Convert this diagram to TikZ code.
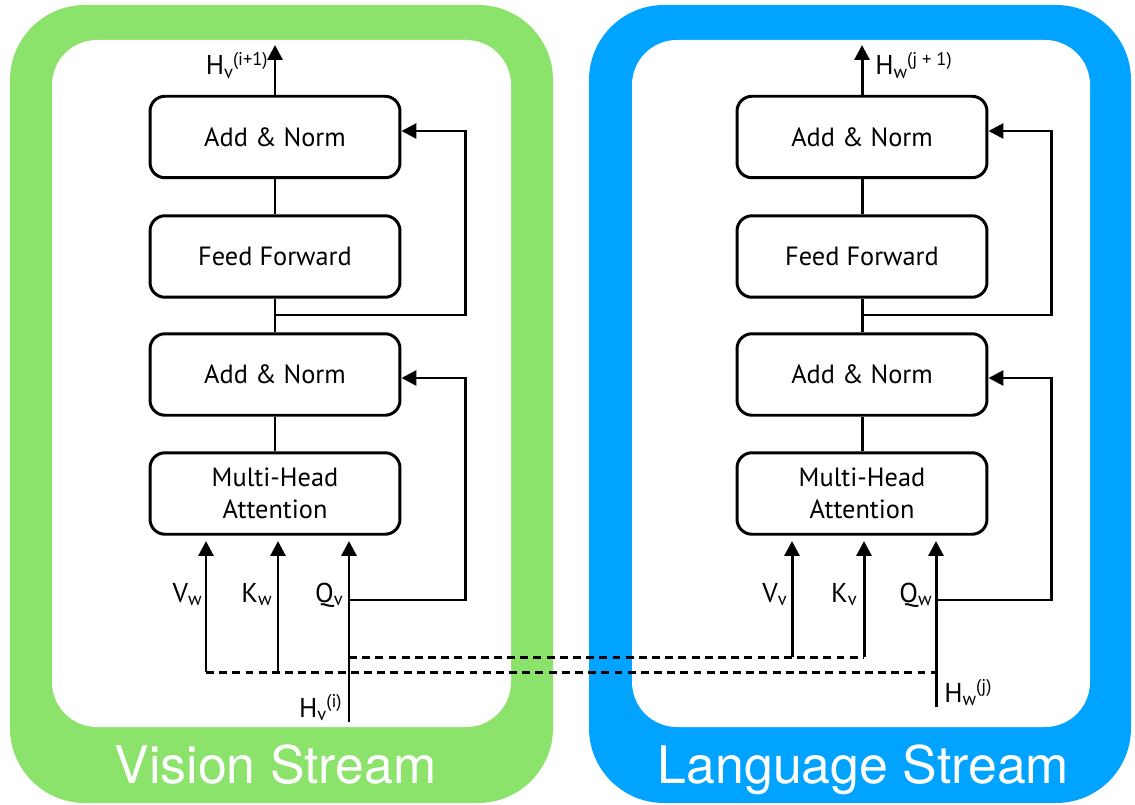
\documentclass[tikz,border=0pt]{standalone}
\usepackage{fontspec}
\usetikzlibrary{arrows.meta}
\newfontfamily\boxfont{PT Sans}
\newfontfamily\titlefont{TeX Gyre Heros}
\definecolor{visgreen}{RGB}{139,227,107}
\definecolor{langblue}{RGB}{0,163,255}
% symbol with subscript and superscript set side by side
\newcommand\symb[3]{#1{\fontsize{10.5}{11}\selectfont\raisebox{-2.2pt}{#2}\raisebox{5.5pt}{#3}}}
\tikzset{
  blk/.style={draw, rounded corners=0.3cm, line width=1.7pt, minimum width=5cm,
    minimum height=1.63cm, align=center, font=\boxfont\fontsize{15}{18}\selectfont},
  ln/.style={line width=1.7pt},
  arr/.style={line width=1.7pt, -{Triangle[width=8.5pt,length=8.5pt]}},
  dsh/.style={line width=1.7pt, dash pattern=on 4.5pt off 3pt},
  lab/.style={inner sep=0pt, font=\boxfont\fontsize{15.5}{18}\selectfont},
  title/.style={inner sep=0pt, text=white, font=\titlefont\fontsize{29.5}{33}\selectfont}
}
\begin{document}
\begin{tikzpicture}[x=0.02cm, y=-0.02cm]
\useasboundingbox (0,0) rectangle (1135,804);

% stream frames
\fill[visgreen, rounded corners=1.5cm] (10,5) rectangle (553,803);
\fill[white, rounded corners=0.9cm] (52,40) rectangle (511,727);
\fill[langblue, rounded corners=1.5cm] (589,5) rectangle (1131,803);
\fill[white, rounded corners=0.9cm] (632,40) rectangle (1090,727);

\node[title, anchor=base] (vtitle) at (275.5,783) {Vision Stream};
\node[title, anchor=base] (ltitle) at (863.5,783) {Language Stream};

% ---------- vision stream ----------
\node[blk] (an1) at (275,137) {Add \& Norm};
\node[blk] (ff)  at (275,256.5) {Feed Forward};
\node[blk] (an2) at (275,374.5) {Add \& Norm};
\node[blk] (mha) at (275,493.5) {Multi-Head\\Attention};

\draw[ln] (mha.north) -- (an2.south);
\draw[ln] (an2.north) -- (ff.south);
\draw[ln] (ff.north) -- (an1.south);

\coordinate (vout) at (275,45);
\draw[arr] (an1.north) -- (vout);
\node[lab, anchor=base east] (vlout) at (268,75) {\symb{H}{v}{(i+1)}};

\coordinate (vj1) at (275,315);
\coordinate (vr1) at (465,131);
\draw[arr] (vj1) -| (vr1) -- (an1.east |- vr1);

\coordinate (vvb) at (206,672);
\coordinate (vkb) at (278,672);
\coordinate (vqb) at (349,722);
\coordinate (vqj) at (349,600);
\coordinate (vr2) at (465,378);
\coordinate (vvt) at (206,541);
\coordinate (vkt) at (278,541);
\coordinate (vqt) at (349,541);
\draw[arr] (vvb) -- (vvt);
\draw[arr] (vkb) -- (vkt);
\draw[arr] (vqb) -- (vqt);
\draw[arr] (vqj) -| (vr2) -- (an2.east |- vr2);

\node[lab, anchor=base east] (vlv) at (202,602) {\symb{V}{w}{}};
\node[lab, anchor=base east] (vlk) at (272,602) {\symb{K}{w}{}};
\node[lab, anchor=base east] (vlq) at (343,602) {\symb{Q}{v}{}};
\node[lab, anchor=base east] (vlin) at (342,717) {\symb{H}{v}{(i)}};

% ---------- language stream ----------
\node[blk] (ran1) at (862,137) {Add \& Norm};
\node[blk] (rff)  at (862,256.5) {Feed Forward};
\node[blk] (ran2) at (862,374.5) {Add \& Norm};
\node[blk] (rmha) at (862,493.5) {Multi-Head\\Attention};

\draw[ln] (rmha.north) -- (ran2.south);
\draw[ln] (ran2.north) -- (rff.south);
\draw[ln] (rff.north) -- (ran1.south);

\coordinate (lout) at (862,45);
\draw[arr] (ran1.north) -- (lout);
\node[lab, anchor=base west] (llout) at (875,75) {\symb{H}{w}{(j + 1)}};

\coordinate (lj1) at (862,315);
\coordinate (lr1) at (1051,131);
\draw[arr] (lj1) -| (lr1) -- (ran1.east |- lr1);

\coordinate (lvb) at (792,657);
\coordinate (lkb) at (864,657);
\coordinate (lqb) at (936,707);
\coordinate (lqj) at (936,600);
\coordinate (lr2) at (1051,378);
\coordinate (lvt) at (792,541);
\coordinate (lkt) at (864,541);
\coordinate (lqt) at (936,541);
\draw[arr] (lvb) -- (lvt);
\draw[arr] (lkb) -- (lkt);
\draw[arr] (lqb) -- (lqt);
\draw[arr] (lqj) -| (lr2) -- (ran2.east |- lr2);

\node[lab, anchor=base east] (llv) at (787,602) {\symb{V}{v}{}};
\node[lab, anchor=base east] (llk) at (857,602) {\symb{K}{v}{}};
\node[lab, anchor=base east] (llq) at (932,602) {\symb{Q}{w}{}};
\node[lab, anchor=base west] (llin) at (944,702) {\symb{H}{w}{(j)}};

% cross-stream feeds
\coordinate (vqd) at (349,657);
\coordinate (lqd) at (936,672);
\draw[dsh] (vqd) -- (lkb);
\draw[dsh] (vvb) -- (lqd);
\end{tikzpicture}
\end{document}
